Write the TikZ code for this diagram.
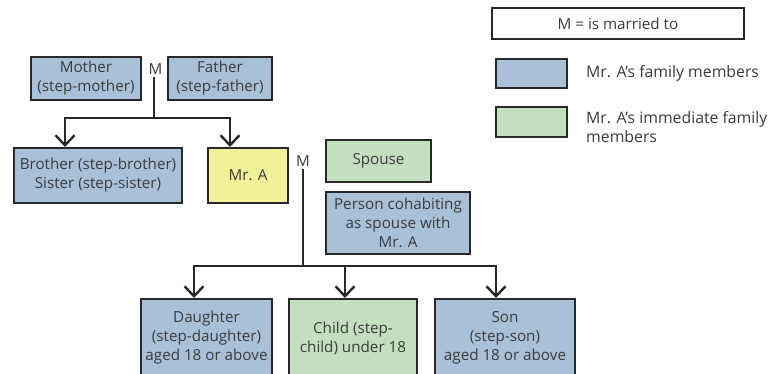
\documentclass[tikz,border=0pt]{standalone}
\usepackage{fontspec}
\setmainfont{Open Sans}
\usetikzlibrary{arrows.meta}
\definecolor{famblue}{RGB}{168,192,216}
\definecolor{famgreen}{RGB}{195,224,190}
\definecolor{mrayellow}{RGB}{241,241,153}
\definecolor{edge}{RGB}{40,40,40}
\definecolor{txt}{RGB}{60,60,60}
\tikzset{
  box/.style={draw=edge, line width=2pt, inner sep=0pt, align=center, text=txt,
    font=\fontsize{15.2}{19}\selectfont},
  bluebox/.style={box, fill=famblue},
  greenbox/.style={box, fill=famgreen},
  yellowbox/.style={box, fill=mrayellow},
  lbl/.style={inner sep=0pt, text=txt, font=\fontsize{15.2}{19}\selectfont},
  legtext/.style={lbl, font=\fontsize{15.8}{19}\selectfont},
  link/.style={draw=edge, line width=2.2pt},
  arr/.style={link, -{Straight Barb[length=10pt,width=19pt,line width=2.4pt]}},
}
\begin{document}
\begin{tikzpicture}[x=1pt,y=-1pt]
\clip (0,0) rectangle (769,374);
\useasboundingbox (0,0) rectangle (769,374);
\fill[white] (0,0) rectangle (769,374);

% family boxes
\node[bluebox, minimum width=110, minimum height=43] (mother) at (86,78.5) {Mother\\(step-mother)};
\node[bluebox, minimum width=104, minimum height=43] (father) at (220,78.5) {Father\\(step-father)};
\node[lbl] (m1) at (155.5,69) {M};
\node[bluebox, minimum width=168, minimum height=55] (brother) at (98,175.5) {Brother (step-brother)\\Sister (step-sister)};
\node[yellowbox, minimum width=80, minimum height=55] (mra) at (248,175.5) {Mr. A};
\node[lbl] (m2) at (303,161) {M};
\node[greenbox, minimum width=105, minimum height=42] (spouse) at (378.5,161) {Spouse};
\node[bluebox, minimum width=144, minimum height=62] (cohab) at (398,223) {Person cohabiting\\as spouse with\\Mr. A};
\node[bluebox, minimum width=131, minimum height=78] (daughter) at (206.5,338) {Daughter\\(step-daughter)\\aged 18 or above};
\node[greenbox, minimum width=128, minimum height=78] (child) at (353,338) {Child (step-\\child) under 18};
\node[bluebox, minimum width=140, minimum height=78] (son) at (505,338) {Son\\(step-son)\\aged 18 or above};

% legend
\node[box, fill=white, minimum width=252, minimum height=31] (legm) at (618,23.5) {M = is married to};
\node[bluebox, minimum width=71, minimum height=29] (legblue) at (531.5,73.5) {};
\node[greenbox, minimum width=71, minimum height=30] (leggreen) at (531.5,122) {};
\node[legtext, anchor=west] (legbluetxt) at (586,73) {Mr. A’s family members};
\node[legtext, anchor=west, align=left] (leggreentxt) at (586,127) {Mr. A’s immediate family\\members};

% connectors top
\coordinate (j1) at (154,118);
\coordinate (broin) at (65,147);
\coordinate (mrain) at (230,147);
\draw[link, line width=1.6pt] (m1.south -| j1) ++(0,2) -- (j1);
\draw[arr] (j1) -| (broin);
\draw[arr] (j1) -| (mrain);

% connectors bottom
\coordinate (j2) at (303,266);
\coordinate (dauin) at (194,298);
\coordinate (chiin) at (345,298);
\coordinate (sonin) at (496,298);
\draw[link, line width=1.6pt] (m2.south) ++(0,2) -- (j2);
\draw[arr] (j2) -| (dauin);
\draw[arr] (j2 -| chiin) -- (chiin);
\draw[arr] (j2) -| (sonin);
\end{tikzpicture}
\end{document}
